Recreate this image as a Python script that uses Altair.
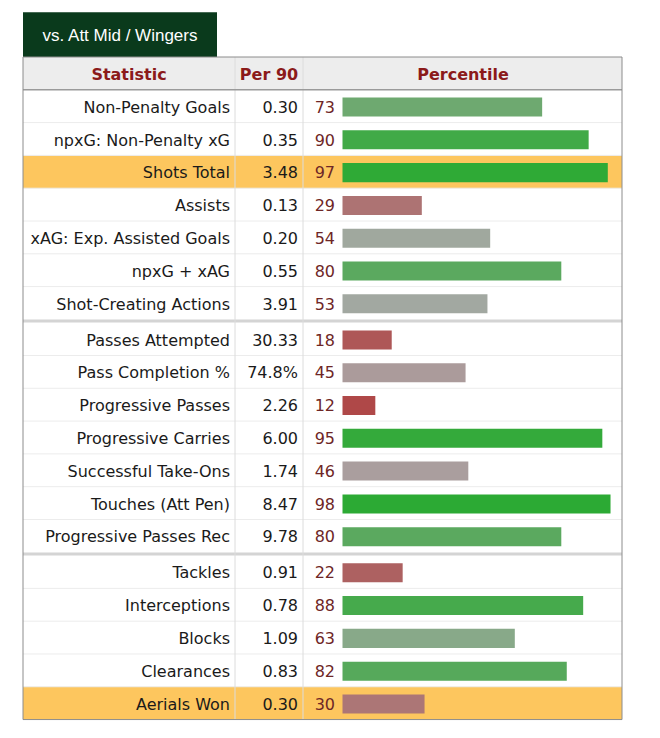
import altair as alt
import pandas as pd

# ---------------- data ----------------
stats = [
    "Non-Penalty Goals", "npxG: Non-Penalty xG", "Shots Total", "Assists",
    "xAG: Exp. Assisted Goals", "npxG + xAG", "Shot-Creating Actions",
    "Passes Attempted", "Pass Completion %", "Progressive Passes",
    "Progressive Carries", "Successful Take-Ons", "Touches (Att Pen)",
    "Progressive Passes Rec",
    "Tackles", "Interceptions", "Blocks", "Clearances", "Aerials Won",
]
per90 = ["0.30", "0.35", "3.48", "0.13", "0.20", "0.55", "3.91",
         "30.33", "74.8%", "2.26", "6.00", "1.74", "8.47", "9.78",
         "0.91", "0.78", "1.09", "0.83", "0.30"]
percentile = [73, 90, 97, 29, 54, 80, 53,
              18, 45, 12, 95, 46, 98, 80,
              22, 88, 63, 82, 30]
group = [0] * 7 + [1] * 7 + [2] * 5
highlighted = ["Shots Total", "Aerials Won"]
headers = ["Statistic", "Per 90", "Percentile"]
tab_title = "vs. Att Mid / Wingers"

# ---------------- layout ----------------
W, H = 640, 716
ROW_PX = 32.8
SEP = 0.1
HEADER_TOP_PX = 49
TAB_TOP_PX = 4.3
BAR0_PX = 334.5
PX_PER_PCT = 2.735

Y_TOP = -1 - HEADER_TOP_PX / ROW_PX
Y_BOT = Y_TOP + H / ROW_PX
X_L = -BAR0_PX / PX_PER_PCT
X_R = X_L + W / PX_PER_PCT

L, R = 15, 614          # table left/right edges (px)
C1, C2 = 227, 295       # column dividers (px)

top = [i + g * SEP for i, g in enumerate(group)]
first = [i == 0 or group[i] != group[i - 1] for i in range(len(group))]

df = pd.DataFrame({"stat": stats, "per90": per90, "pct": percentile,
                   "group": group, "top": top, "first": first})
df["mid"] = df["top"] + 0.5
df["bar_top"] = df["top"] + 0.235
df["bar_bot"] = df["top"] + 0.815
df["bottom"] = df["top"] + 1
df["sep"] = df["top"] - SEP / 2
df["hl"] = df["stat"].isin(highlighted)
df["zero"] = 0

tab_top = -1 - (HEADER_TOP_PX - TAB_TOP_PX) / ROW_PX
frame = pd.DataFrame({
    "tab_top": [tab_top], "tab_mid": [(tab_top - 1) / 2],
    "hdr_top": [-1.0], "hdr_bot": [0.0], "hdr_mid": [-0.5],
    "tbl_bot": [float(df["bottom"].max())],
})

xs = alt.Scale(domain=[X_L, X_R], nice=False, zero=False)
ys = alt.Scale(domain=[Y_TOP, Y_BOT], nice=False, zero=False, reverse=True)


def Y(f):
    return alt.Y(f, type="quantitative", scale=ys, axis=None)


FONT = "DejaVu Sans"
fr = alt.Chart(frame)
base = alt.Chart(df)

tab = fr.mark_rect(color="#0a3a1c").encode(
    x=alt.value(L), x2=alt.value(209), y=Y("tab_top"), y2="hdr_top")
tab_text = fr.mark_text(text=tab_title, font="Liberation Sans", fontSize=17,
                        color="white", align="center", baseline="middle",
                        dy=1).encode(
    x=alt.value(112), y=Y("tab_mid"))

hdr_bg = fr.mark_rect(color="#ededed").encode(
    x=alt.value(L), x2=alt.value(R), y=Y("hdr_top"), y2="hdr_bot")

hl_bg = base.transform_filter("datum.hl").mark_rect(color="#fdc65e").encode(
    x=alt.value(L), x2=alt.value(R), y=Y("top"), y2="bottom")

row_lines = base.transform_filter("!datum.first").mark_rule(
    color="#ececec", strokeWidth=1).encode(
    x=alt.value(L), x2=alt.value(R), y=Y("top"))

sep_lines = base.transform_filter("datum.first && datum.group > 0").mark_rule(
    color="#d4d4d4", strokeWidth=3).encode(
    x=alt.value(L), x2=alt.value(R), y=Y("sep"))

col1 = fr.mark_rule(color="#dcdcdc").encode(
    x=alt.value(C1), y=Y("hdr_top"), y2="tbl_bot")
col2 = fr.mark_rule(color="#dcdcdc").encode(
    x=alt.value(C2), y=Y("hdr_top"), y2="tbl_bot")

hdr_line = fr.mark_rule(color="#9a9a9a", strokeWidth=1.5).encode(
    x=alt.value(L), x2=alt.value(R), y=Y("hdr_bot"))

border = fr.mark_rect(fillOpacity=0, stroke="#8c8c8c", strokeWidth=1).encode(
    x=alt.value(L), x2=alt.value(R), y=Y("hdr_top"), y2="tbl_bot")

hdr_style = dict(font=FONT, fontSize=16, fontWeight="bold", color="#8b1a1a",
                 align="center", baseline="middle", dy=1.5)
h1 = fr.mark_text(text=headers[0], **hdr_style).encode(x=alt.value(121), y=Y("hdr_mid"))
h2 = fr.mark_text(text=headers[1], **hdr_style).encode(x=alt.value(261), y=Y("hdr_mid"))
h3 = fr.mark_text(text=headers[2], **hdr_style).encode(x=alt.value(455), y=Y("hdr_mid"))

bars = base.mark_rect().encode(
    x=alt.X("zero:Q", scale=xs, axis=None),
    x2="pct",
    y=Y("bar_top"), y2="bar_bot",
    color=alt.Color("pct:Q", legend=None,
                    scale=alt.Scale(domain=[0, 50, 100],
                                    range=["#b02a2a", "#aaa8a8", "#27aa2f"],
                                    interpolate="rgb")),
)

txt_style = dict(font=FONT, fontSize=16, align="right", baseline="middle", dy=1.5)
stat_txt = base.mark_text(color="#1a1a1a", **txt_style).encode(
    x=alt.value(222), y=Y("mid"), text="stat")
per_txt = base.mark_text(color="#1a1a1a", **txt_style).encode(
    x=alt.value(290), y=Y("mid"), text="per90")
pct_txt = base.mark_text(color="#6e2626", **txt_style).encode(
    x=alt.value(327), y=Y("mid"), text="pct:Q")

chart = alt.layer(
    tab, tab_text, hdr_bg, hl_bg, row_lines, sep_lines, col1, col2,
    bars, stat_txt, per_txt, pct_txt, h1, h2, h3, hdr_line, border,
).properties(
    width=W, height=H, padding=0, autosize="none", background="white"
).configure_view(stroke=None)

chart.save("out.html", embed_options={"renderer": "svg", "actions": False})
